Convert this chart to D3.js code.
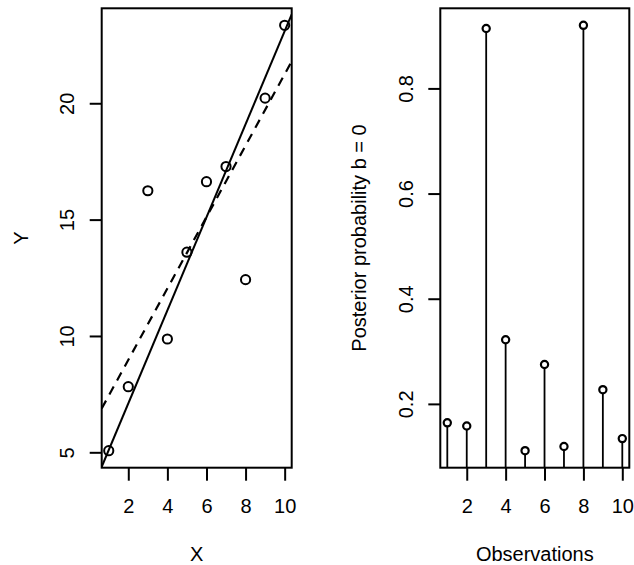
<!DOCTYPE html>
<html><head><meta charset="utf-8">
<script src="https://cdn.jsdelivr.net/npm/d3@7"></script>
<style>
body{margin:0;background:#fff;}
svg{display:block;font-family:"Liberation Sans",Arial,sans-serif;}
</style></head>
<body><svg id="c" width="634" height="565"></svg>
<script>
// ---- data ----
const obs = [1,2,3,4,5,6,7,8,9,10];
const yValues = [5.07,7.82,16.24,9.87,13.6,16.63,17.28,12.42,20.22,23.35];
const postProb = [0.164,0.158,0.914,0.322,0.111,0.275,0.119,0.920,0.227,0.134];
const robustFit = [3.1, 2.0];     // intercept, slope (solid)
const olsFit = [5.9, 1.535];      // intercept, slope (dashed)
const xTicks = [2,4,6,8,10];
const yTicksLeft = [5,10,15,20];
const yTicksRight = [0.2,0.4,0.6,0.8];

const svg = d3.select("#c");
const plotTop = 8.3, plotBottom = 467.7;
const FS = 20;

function rExt(arr){ const mn=d3.min(arr), mx=d3.max(arr), r=mx-mn; return [mn-0.04*r, mx+0.04*r]; }

function panel(x0, x1, yDom, xLabel, yLabel, yTicks, yFmt){
  const x = d3.scaleLinear().domain(rExt(obs)).range([x0,x1]);
  const y = d3.scaleLinear().domain(yDom).range([plotBottom, plotTop]);
  const g = svg.append("g");
  const ax = g.append("g").attr("transform",`translate(0,${plotBottom})`)
    .call(d3.axisBottom(x).tickValues(xTicks).tickSize(13).tickPadding(18).tickFormat(d3.format("d")));
  ax.select(".domain").remove();
  ax.selectAll("line").attr("stroke","#000").attr("stroke-width",2);
  ax.selectAll("text").attr("font-size",FS).attr("fill","#000");
  const ay = g.append("g").attr("transform",`translate(${x0},0)`)
    .call(d3.axisLeft(y).tickValues(yTicks).tickSize(12).tickFormat(yFmt));
  ay.select(".domain").remove();
  ay.selectAll("line").attr("stroke","#000").attr("stroke-width",2);
  ay.selectAll("text").attr("font-size",FS).attr("fill","#000")
    .attr("transform","rotate(-90)").attr("x",0).attr("y",-34.5)
    .attr("dy","0.35em").attr("text-anchor","middle");
  ax.attr("font-family",null); ay.attr("font-family",null);
  g.append("text").attr("x",(x0+x1)/2).attr("y",561).attr("text-anchor","middle")
    .attr("font-size",FS).text(xLabel);
  g.append("text").attr("transform",`translate(${x0-74},${(plotTop+plotBottom)/2}) rotate(-90)`)
    .attr("text-anchor","middle").attr("font-size",FS).text(yLabel);
  const id = "clip"+Math.round(x0);
  svg.append("clipPath").attr("id",id).append("rect")
    .attr("x",x0).attr("y",plotTop).attr("width",x1-x0).attr("height",plotBottom-plotTop);
  const plot = g.append("g").attr("clip-path",`url(#${id})`);
  return {x,y,g,plot,x0,x1};
}

// Left panel
const L = panel(101.7, 291.7, rExt(yValues), "X", "Y", yTicksLeft, d3.format("d"));
const xd = L.x.domain();
function fitLine(c){ return d3.line().x(d=>L.x(d)).y(d=>L.y(c[0]+c[1]*d))(xd); }
L.plot.append("path").attr("d",fitLine(robustFit)).attr("fill","none").attr("stroke","#000").attr("stroke-width",2);
L.plot.append("path").attr("d",fitLine(olsFit)).attr("fill","none").attr("stroke","#000").attr("stroke-width",2.2)
  .attr("stroke-dasharray","9,7");
L.g.selectAll("circle.p").data(obs).join("circle")
  .attr("cx",d=>L.x(d)).attr("cy",(d,i)=>L.y(yValues[i])).attr("r",4.6)
  .attr("fill","none").attr("stroke","#000").attr("stroke-width",2);
L.g.append("rect").attr("x",L.x0).attr("y",plotTop).attr("width",L.x1-L.x0).attr("height",plotBottom-plotTop)
  .attr("fill","none").attr("stroke","#000").attr("stroke-width",2);

// Right panel
const R = panel(440.3, 629.3, rExt(postProb), "Observations", "Posterior probability b = 0", yTicksRight, d3.format(".1f"));
R.plot.selectAll("line.s").data(obs).join("line")
  .attr("x1",d=>R.x(d)).attr("x2",d=>R.x(d))
  .attr("y1",(d,i)=>R.y(postProb[i])).attr("y2",R.y(0))
  .attr("stroke","#000").attr("stroke-width",1.8);
R.g.selectAll("circle.p").data(obs).join("circle")
  .attr("cx",d=>R.x(d)).attr("cy",(d,i)=>R.y(postProb[i])).attr("r",3.6)
  .attr("fill","#fff").attr("stroke","#000").attr("stroke-width",2.2);
R.g.append("rect").attr("x",R.x0).attr("y",plotTop).attr("width",R.x1-R.x0).attr("height",plotBottom-plotTop)
  .attr("fill","none").attr("stroke","#000").attr("stroke-width",2);
</script></body></html>
